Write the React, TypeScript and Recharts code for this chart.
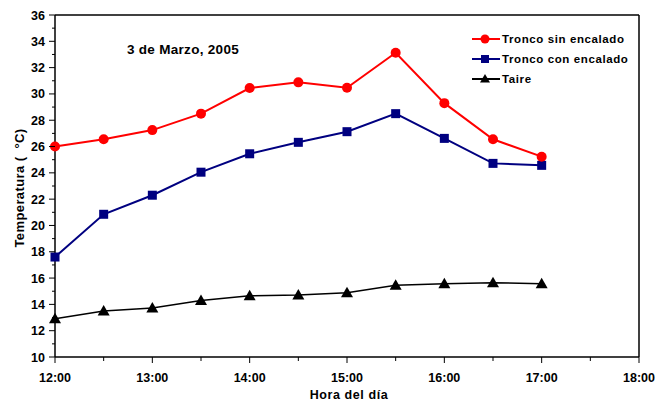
import React from "react";
import { LineChart, Line, XAxis, YAxis, ReferenceLine } from "recharts";

// hours of the day (decimal), readings every half hour
const HORAS = [12, 12.5, 13, 13.5, 14, 14.5, 15, 15.5, 16, 16.5, 17];
const SIN_ENCALADO = [26.0, 26.55, 27.25, 28.5, 30.45, 30.88, 30.47, 33.13, 29.3, 26.55, 25.23];
const CON_ENCALADO = [17.6, 20.85, 22.3, 24.05, 25.45, 26.32, 27.13, 28.5, 26.62, 24.72, 24.57];
const TAIRE = [12.9, 13.5, 13.73, 14.3, 14.65, 14.72, 14.88, 15.45, 15.57, 15.65, 15.57];

const NOMBRES = ["Tronco sin encalado", "Tronco con encalado", "Taire"];
const X_TICKS = [12, 12.5, 13, 13.5, 14, 14.5, 15, 15.5, 16, 16.5, 17, 17.5, 18];
const Y_TICKS = [
  10, 11, 12, 13, 14, 15, 16, 17, 18, 19, 20, 21, 22, 23, 24, 25, 26, 27, 28, 29, 30, 31, 32, 33, 34, 35, 36
];

const data = HORAS.map((h, i) => ({
  hora: h,
  sin: SIN_ENCALADO[i],
  con: CON_ENCALADO[i],
  taire: TAIRE[i]
}));

const FONT = "Arial, 'Liberation Sans', sans-serif";
const RED = "#FF0000";
const NAVY = "#000080";
const BLACK = "#000000";

const fmtHora = (v: number) => `${Math.floor(v)}:00`;

function XTick({ x, y, payload }: any) {
  const major = Number.isInteger(payload.value);
  return (
    <g>
      <line x1={x} y1={y} x2={x} y2={y + (major ? 6 : 4)} stroke={BLACK} strokeWidth={1} />
      {major && (
        <text x={x} y={y + 24.5} textAnchor="middle" fontFamily={FONT} fontWeight="bold" fontSize={12.5} fill={BLACK}>
          {fmtHora(payload.value)}
        </text>
      )}
    </g>
  );
}

function YTick({ x, y, payload }: any) {
  const major = payload.value % 2 === 0;
  return (
    <g>
      <line x1={x} y1={y} x2={x - (major ? 6 : 3)} y2={y} stroke={BLACK} strokeWidth={1} />
      {major && (
        <text x={x - 10} y={y + 4.5} textAnchor="end" fontFamily={FONT} fontWeight="bold" fontSize={12.5} fill={BLACK}>
          {payload.value}
        </text>
      )}
    </g>
  );
}

const CircleDot = (p: any) => <circle key={`c${p.index}`} cx={p.cx} cy={p.cy} r={5} fill={RED} />;
const SquareDot = (p: any) => (
  <rect key={`s${p.index}`} x={p.cx - 4.5} y={p.cy - 4.5} width={9} height={9} fill={NAVY} />
);
const TriangleDot = (p: any) => (
  <polygon
    key={`t${p.index}`}
    points={`${p.cx},${p.cy - 6} ${p.cx + 6},${p.cy + 4.5} ${p.cx - 6},${p.cy + 4.5}`}
    fill={BLACK}
  />
);

function LegendRow({ y, color, name, marker }: { y: number; color: string; name: string; marker: string }) {
  const cx = 485;
  return (
    <g>
      <line x1={472} y1={y} x2={500} y2={y} stroke={color} strokeWidth={2} />
      {marker === "circle" && <circle cx={cx} cy={y} r={4.5} fill={color} />}
      {marker === "square" && <rect x={cx - 4} y={y - 4} width={8} height={8} fill={color} />}
      {marker === "triangle" && (
        <polygon points={`${cx},${y - 5} ${cx + 5},${y + 3.5} ${cx - 5},${y + 3.5}`} fill={color} />
      )}
      <text x={502} y={y + 4} fontFamily={FONT} fontWeight="bold" fontSize={11.5} letterSpacing={0.6} fill={BLACK}>
        {name}
      </text>
    </g>
  );
}

export default function App() {
  return (
    <div style={{ position: "absolute", left: 0, top: 0, width: 655, height: 402, background: "#fff" }}>
      <LineChart width={655} height={402} data={data} margin={{ top: 15, right: 16, bottom: 0, left: 0 }}>
        <XAxis
          dataKey="hora"
          type="number"
          domain={[12, 18]}
          ticks={X_TICKS}
          interval={0}
          tickSize={0}
          tickMargin={0}
          tickLine={false}
          tick={<XTick />}
          height={45}
          axisLine={{ stroke: BLACK, strokeWidth: 1.5 }}
        />
        <YAxis
          type="number"
          domain={[10, 36]}
          ticks={Y_TICKS}
          interval={0}
          tickSize={0}
          tickMargin={0}
          tickLine={false}
          tick={<YTick />}
          width={55}
          axisLine={{ stroke: BLACK, strokeWidth: 1.5 }}
        />
        <ReferenceLine y={36} stroke={BLACK} strokeWidth={1.5} />
        <ReferenceLine x={18} stroke={BLACK} strokeWidth={1.5} />
        <Line
          type="linear"
          dataKey="taire"
          name={NOMBRES[2]}
          stroke={BLACK}
          strokeWidth={1.5}
          dot={TriangleDot}
          isAnimationActive={false}
        />
        <Line
          type="linear"
          dataKey="con"
          name={NOMBRES[1]}
          stroke={NAVY}
          strokeWidth={2}
          dot={SquareDot}
          isAnimationActive={false}
        />
        <Line
          type="linear"
          dataKey="sin"
          name={NOMBRES[0]}
          stroke={RED}
          strokeWidth={2}
          dot={CircleDot}
          isAnimationActive={false}
        />
      </LineChart>
      <svg
        width={655}
        height={402}
        style={{ position: "absolute", left: 0, top: 0, pointerEvents: "none" }}
      >
        <text x={183} y={54} textAnchor="middle" fontFamily={FONT} fontWeight="bold" fontSize={13.5} letterSpacing={0.3} fill={BLACK}>
          3 de Marzo, 2005
        </text>
        <text
          transform="translate(24,188) rotate(-90)"
          textAnchor="middle"
          fontFamily={FONT}
          fontWeight="bold"
          fontSize={13}
          letterSpacing={0.4}
          fill={BLACK}
          style={{ whiteSpace: "pre" }}
        >
          {"Temperatura (  °C)"}
        </text>
        <text x={349} y={399} textAnchor="middle" fontFamily={FONT} fontWeight="bold" fontSize={12.5} letterSpacing={0.6} fill={BLACK}>
          Hora del día
        </text>
        <LegendRow y={39} color={RED} name={NOMBRES[0]} marker="circle" />
        <LegendRow y={59} color={NAVY} name={NOMBRES[1]} marker="square" />
        <LegendRow y={79} color={BLACK} name={NOMBRES[2]} marker="triangle" />
      </svg>
    </div>
  );
}
